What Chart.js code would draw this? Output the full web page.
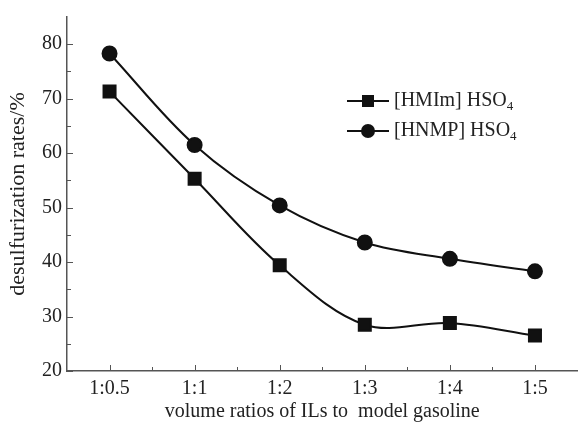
<!DOCTYPE html>
<html>
<head>
<meta charset="utf-8">
<script src="https://cdn.jsdelivr.net/npm/chart.js@4/dist/chart.umd.min.js"></script>
<style>
  html, body { margin: 0; padding: 0; background: #fff; }
  #wrap { width: 588px; height: 424px; position: relative; }
</style>
</head>
<body>
<div id="wrap"><canvas id="chart" width="588" height="424"></canvas></div>
<script>
const ratios = ["1:0.5", "1:1", "1:2", "1:3", "1:4", "1:5"];
const hmimRates = [71.3, 55.3, 39.4, 28.5, 28.8, 26.5];
const hnmpRates = [78.3, 61.5, 50.4, 43.6, 40.6, 38.3];
const seriesNames = ["[HMIm] HSO₄", "[HNMP] HSO₄"];

const ink = "#111";
const serif = "'Liberation Serif', 'Times New Roman', serif";

// ticks point into the plot, minor ticks halfway between majors
const innerTicks = {
  id: "innerTicks",
  afterDraw(chart) {
    const ctx = chart.ctx;
    const x = chart.scales.x;
    const y = chart.scales.y;
    const area = chart.chartArea;
    ctx.save();
    ctx.strokeStyle = "#555";
    ctx.lineWidth = 1;
    ctx.beginPath();
    for (let i = 0; i < ratios.length; i++) {
      const px = Math.round(x.getPixelForValue(i)) + 0.5;
      ctx.moveTo(px, area.bottom);
      ctx.lineTo(px, area.bottom - 6);
      if (i < ratios.length - 1) {
        const mx = Math.round((x.getPixelForValue(i) + x.getPixelForValue(i + 1)) / 2) + 0.5;
        ctx.moveTo(mx, area.bottom);
        ctx.lineTo(mx, area.bottom - 4);
      }
    }
    for (let v = 20; v <= 80; v += 5) {
      const py = Math.round(y.getPixelForValue(v)) + 0.5;
      ctx.moveTo(area.left, py);
      ctx.lineTo(area.left + (v % 10 === 0 ? 6 : 4), py);
    }
    ctx.stroke();
    ctx.restore();
  }
};

// legend: short line with marker, label with subscript 4
const lineLegend = {
  id: "lineLegend",
  afterDraw(chart) {
    const ctx = chart.ctx;
    const left = 347, rowY = [101, 131];
    ctx.save();
    chart.data.datasets.forEach((ds, i) => {
      const yy = rowY[i];
      ctx.strokeStyle = ink;
      ctx.lineWidth = 2;
      ctx.beginPath();
      ctx.moveTo(left, yy);
      ctx.lineTo(left + 42, yy);
      ctx.stroke();
      ctx.fillStyle = ink;
      if (ds.pointStyle === "rect") {
        ctx.fillRect(left + 15, yy - 6, 12, 12);
      } else {
        ctx.beginPath();
        ctx.arc(left + 21, yy, 7, 0, Math.PI * 2);
        ctx.fill();
      }
      const main = ds.label.replace("₄", "");
      ctx.textBaseline = "middle";
      ctx.font = "20px " + serif;
      ctx.fillStyle = "#222";
      ctx.fillText(main, left + 47, yy);
      const w = ctx.measureText(main).width;
      ctx.font = "13px " + serif;
      ctx.fillText("4", left + 47 + w, yy + 6);
    });
    ctx.restore();
  }
};

new Chart(document.getElementById("chart"), {
  type: "line",
  data: {
    labels: ratios,
    datasets: [
      {
        label: seriesNames[0],
        data: hmimRates,
        pointStyle: "rect",
        pointRadius: 8.5,
        pointHoverRadius: 8.5,
        borderColor: ink,
        backgroundColor: ink,
        borderWidth: 2,
        tension: 0.35
      },
      {
        label: seriesNames[1],
        data: hnmpRates,
        pointStyle: "circle",
        pointRadius: 7,
        pointHoverRadius: 7,
        borderColor: ink,
        backgroundColor: ink,
        borderWidth: 2,
        tension: 0.35
      }
    ]
  },
  options: {
    responsive: false,
    animation: false,
    events: [],
    layout: { padding: { top: 12, right: 0, left: 0, bottom: 0 } },
    plugins: {
      legend: { display: false },
      tooltip: { enabled: false }
    },
    scales: {
      x: {
        type: "category",
        offset: true,
        grid: { display: false, drawTicks: false },
        border: { display: true, color: "#555", width: 1.5 },
        ticks: {
          color: "#222",
          font: { family: serif, size: 20 },
          padding: 6,
          maxRotation: 0
        },
        title: {
          display: true,
          text: "volume ratios of ILs to  model gasoline",
          color: "#222",
          font: { family: serif, size: 20 },
          padding: { top: 0, bottom: 0 }
        },
        afterFit(scale) { scale.height = 53; }
      },
      y: {
        min: 20,
        max: 85,
        grid: { display: false, drawTicks: false },
        border: { display: true, color: "#555", width: 1.5 },
        ticks: {
          stepSize: 10,
          color: "#222",
          font: { family: serif, size: 20 },
          padding: 5
        },
        afterBuildTicks(scale) {
          scale.ticks = scale.ticks.filter(t => t.value % 10 === 0);
        },
        title: {
          display: true,
          text: "desulfurization rates/%",
          color: "#222",
          font: { family: serif, size: 22 },
          padding: { top: 5, bottom: 0 }
        },
        afterFit(scale) { scale.width = 67; }
      }
    }
  },
  plugins: [innerTicks, lineLegend]
});
</script>
</body>
</html>
